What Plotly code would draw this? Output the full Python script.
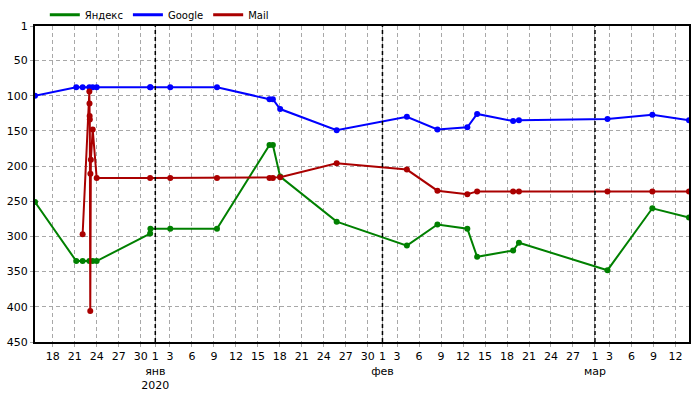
import plotly.graph_objects as go

# shared observation dates
DATES = [
    "2019-12-15 14:00", "2019-12-21 05:00", "2019-12-22 02:00", "2019-12-23 00:00",
    "2019-12-23 11:00", "2019-12-24 00:00", "2019-12-31 07:00", "2019-12-31 08:00",
    "2020-01-03 01:00", "2020-01-09 10:00", "2020-01-16 14:00", "2020-01-17 01:00",
    "2020-01-18 01:00", "2020-01-25 18:00", "2020-02-04 08:00", "2020-02-08 12:00",
    "2020-02-12 14:00", "2020-02-13 22:00", "2020-02-18 20:00", "2020-02-19 15:00",
    "2020-03-02 17:00", "2020-03-08 20:00", "2020-03-13 20:00",
]

YANDEX = [251, 335, 335, 335, 335, 335, 296, 289, 289, 289, 170, 170,
          215, 279, 313, 283, 289, 329, 320, 309, 348, 260, 273]
GOOGLE = [100, 88, 88, 88, 88, 88, 88, 88, 88, 88, 105, 105,
          119, 149, 130, 148, 145, 126, 136, 135, 133, 127, 135]

# Mail starts later and has a burst of positions around Dec 23
MAIL_DATES = [
    "2019-12-22 02:00", "2019-12-23 00:00", "2019-12-23 00:30", "2019-12-23 01:00",
    "2019-12-23 01:30", "2019-12-23 03:00", "2019-12-23 03:30", "2019-12-23 05:00",
    "2019-12-23 11:00", "2019-12-24 00:00", "2019-12-31 07:00", "2020-01-03 01:00",
    "2020-01-09 10:00", "2020-01-16 14:00", "2020-01-17 01:00", "2020-01-18 01:00",
    "2020-01-25 18:00", "2020-02-04 08:00", "2020-02-08 12:00", "2020-02-12 14:00",
    "2020-02-13 22:00", "2020-02-18 20:00", "2020-02-19 15:00", "2020-03-02 17:00",
    "2020-03-08 20:00", "2020-03-13 20:00",
]
MAIL = [297, 94, 111, 129, 134, 406, 211, 191, 148, 217, 217, 217,
        217, 217, 217, 216, 196, 205, 235, 240, 236, 236, 236, 236,
        236, 236]

TICK_VALS = [
    "2019-12-18", "2019-12-21", "2019-12-24", "2019-12-27", "2019-12-30",
    "2020-01-01", "2020-01-03", "2020-01-06", "2020-01-09", "2020-01-12",
    "2020-01-15", "2020-01-18", "2020-01-21", "2020-01-24", "2020-01-27",
    "2020-01-30", "2020-02-01", "2020-02-03", "2020-02-06", "2020-02-09",
    "2020-02-12", "2020-02-15", "2020-02-18", "2020-02-21", "2020-02-24",
    "2020-02-27", "2020-03-01", "2020-03-03", "2020-03-06", "2020-03-09",
    "2020-03-12",
]
TICK_TEXT = [
    "18", "21", "24", "27", "30", "1<br>янв<br>2020", "3", "6", "9", "12",
    "15", "18", "21", "24", "27", "30", "1<br>фев", "3", "6", "9",
    "12", "15", "18", "21", "24", "27", "1<br>мар", "3", "6", "9", "12",
]
MONTH_STARTS = ["2020-01-01", "2020-02-01", "2020-03-01"]
Y_TICKS = [1, 50, 100, 150, 200, 250, 300, 350, 400, 450]

SERIES = [
    ("Яндекс", DATES, YANDEX, "#008000"),
    ("Google", DATES, GOOGLE, "#0000ff"),
    ("Mail", MAIL_DATES, MAIL, "#aa0000"),
]

fig = go.Figure()
for name, x, y, color in SERIES:
    fig.add_trace(
        go.Scatter(
            x=x, y=y, mode="lines+markers", name=name, showlegend=False,
            line=dict(color=color, width=2),
            marker=dict(color=color, size=6),
        )
    )
# line-only legend entries
for name, _, _, color in SERIES:
    fig.add_trace(
        go.Scatter(x=[None], y=[None], mode="lines", name=name,
                   line=dict(color=color, width=3))
    )

for month in MONTH_STARTS:
    fig.add_vline(x=month, line=dict(color="black", width=1.5, dash="4px,3px"))

fig.update_layout(
    width=700,
    height=400,
    paper_bgcolor="white",
    plot_bgcolor="white",
    margin=dict(l=35, r=11, t=26, b=58, autoexpand=False),
    font=dict(family="DejaVu Sans", size=11, color="black"),
    legend=dict(
        orientation="h", x=0.015, y=0.99, xanchor="left", yanchor="bottom",
        font=dict(size=10), itemwidth=30, bgcolor="rgba(0,0,0,0)",
    ),
    xaxis=dict(
        range=[DATES[0], DATES[-1]],
        tickvals=TICK_VALS, ticktext=TICK_TEXT, tickangle=0,
        showgrid=True, gridcolor="#a8a8a8", griddash="4px,3px", gridwidth=1,
        showline=True, mirror=True, linecolor="black", linewidth=2,
        ticks="outside", ticklen=3, tickcolor="#a8a8a8", zeroline=False,
        automargin=False,
    ),
    yaxis=dict(
        range=[450, 1],
        tickvals=Y_TICKS,
        showgrid=True, gridcolor="#a8a8a8", griddash="4px,3px", gridwidth=1,
        showline=True, mirror=True, linecolor="black", linewidth=2,
        ticks="outside", ticklen=3, tickcolor="#a8a8a8", zeroline=False,
        automargin=False,
    ),
)

# drop the default page margin so the figure sits at the window origin
fig.write_html(
    "out.html",
    config={"displayModeBar": False},
    post_script="document.body.style.margin='0px';",
)
